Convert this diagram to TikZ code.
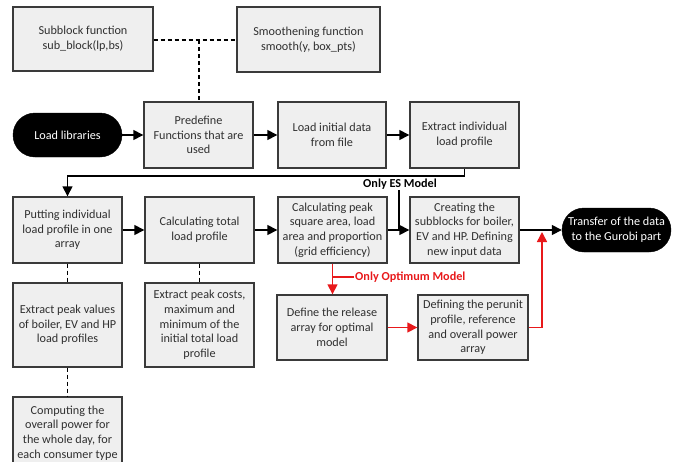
\documentclass[tikz,border=0pt]{standalone}
\usepackage{fontspec}
\setmainfont{Carlito}
\usetikzlibrary{arrows.meta,positioning}
\definecolor{boxfill}{HTML}{EFEFEF}
\definecolor{boxline}{HTML}{3A3A3A}
\definecolor{txt}{HTML}{303030}
\definecolor{redline}{HTML}{E8191B}
\tikzset{
  box/.style={draw=boxline,fill=boxfill,line width=1.4pt,align=center,inner sep=2pt,
    text=txt,font=\fontsize{12.2}{14.7}\selectfont},
  pill/.style={draw=black,fill=black,rounded corners=22pt,align=center,text=white,
    font=\fontsize{12.2}{14.7}\selectfont,minimum width=109pt,minimum height=44pt},
  arr/.style={line width=1.5pt,-{Triangle[length=10pt,width=10pt]}},
  redarr/.style={line width=1.5pt,draw=redline,-{Triangle[length=10pt,width=10pt]},color=redline},
  dashline/.style={line width=1.5pt,dash pattern=on 4pt off 3pt},
}
\begin{document}
\begin{tikzpicture}[x=1pt,y=-1pt]
\useasboundingbox (0,0) rectangle (678,461);
% top row
\node[box,minimum width=140pt,minimum height=64pt] (sub) at (83,39) {Subblock function\\sub\_block(lp,bs)};
\node[box,minimum width=143pt,minimum height=65pt] (smooth) at (308.5,39.5) {Smoothening function\\smooth(y, box\_pts)};
% row 1
\node[pill] (lib) at (67.5,135) {Load libraries};
\node[box,minimum width=109pt,minimum height=66pt] (pre) at (198.5,135) {Predefine\\Functions that are\\used};
\node[box,minimum width=108pt,minimum height=66pt] (load) at (332,135) {Load initial data\\from file};
\node[box,minimum width=109pt,minimum height=66pt] (extract) at (464.5,135) {Extract individual\\load profile};
% row 2
\node[box,minimum width=109pt,minimum height=66pt] (put) at (67.5,230) {Putting individual\\load profile in one\\array};
\node[box,minimum width=109pt,minimum height=66pt] (total) at (199.5,230) {Calculating total\\load profile};
\node[box,minimum width=109pt,minimum height=66pt] (peak) at (332.5,230) {Calculating peak\\square area, load\\area and proportion\\(grid efficiency)};
\node[box,minimum width=109pt,minimum height=66pt] (create) at (464.5,230) {Creating the\\subblocks for boiler,\\EV and HP. Defining\\new input data};
\node[pill] (transfer) at (616.5,230) {Transfer of the data\\to the Gurobi part};
% row 3
\node[box,minimum width=109pt,minimum height=84pt] (pvals) at (67.5,325) {Extract peak values\\of boiler, EV and HP\\load profiles};
\node[box,minimum width=109pt,minimum height=84pt] (pcosts) at (199.5,325) {Extract peak costs,\\maximum and\\minimum of the\\initial total load\\profile};
\node[box,minimum width=110pt,minimum height=65pt] (release) at (332,327.5) {Define the release\\array for optimal\\model};
\node[box,minimum width=110pt,minimum height=65pt] (perunit) at (473,327.5) {Defining the perunit\\profile, reference\\and overall power\\array};
% row 4
\node[box,minimum width=109pt,minimum height=72pt] (comp) at (67.5,433) {Computing the\\overall power for\\the whole day, for\\each consumer type};
% labels
\node[font=\fontsize{12.2}{13}\selectfont\bfseries,inner sep=1pt] (es) at (400,184) {Only ES Model};
\node[font=\fontsize{12.2}{13}\selectfont\bfseries,text=redline,inner sep=1pt,anchor=west] (opt) at (354,277) {Only Optimum Model};
% dashed connectors
\coordinate (topj) at (199,40);
\draw[dashline] (sub.east |- topj) -- (smooth.west |- topj);
\draw[dashline] (topj) -- (pre.north -| topj);
\draw[dashline] (put.south) -- (pvals.north);
\draw[dashline] (total.south) -- (pcosts.north);
\draw[dashline] (pvals.south) -- (comp.north);
% black arrows
\draw[arr] (lib) -- (pre);
\draw[arr] (pre) -- (load);
\draw[arr] (load) -- (extract);
\coordinate (turn) at (464.5,176);
\draw[arr] (extract.south) -- (turn) -| (put.north);
\draw[arr] (put) -- (total);
\draw[arr] (total) -- (peak);
\draw[arr] (peak) -- (create);
\draw[arr] (create) -- (transfer);
\draw[line width=1.5pt] (es.south -| 399,0) -- (peak.east -| 399,0);
% red arrows
\draw[redarr] (peak.south) -- (release.north -| peak.south);
\draw[line width=1.5pt,redline] (opt.west) -- (opt.west -| peak.south);
\draw[redarr] (release) -- (perunit);
\coordinate (rj) at (542,232);
\draw[redarr] (perunit.east) -| (rj);
\end{tikzpicture}
\end{document}
